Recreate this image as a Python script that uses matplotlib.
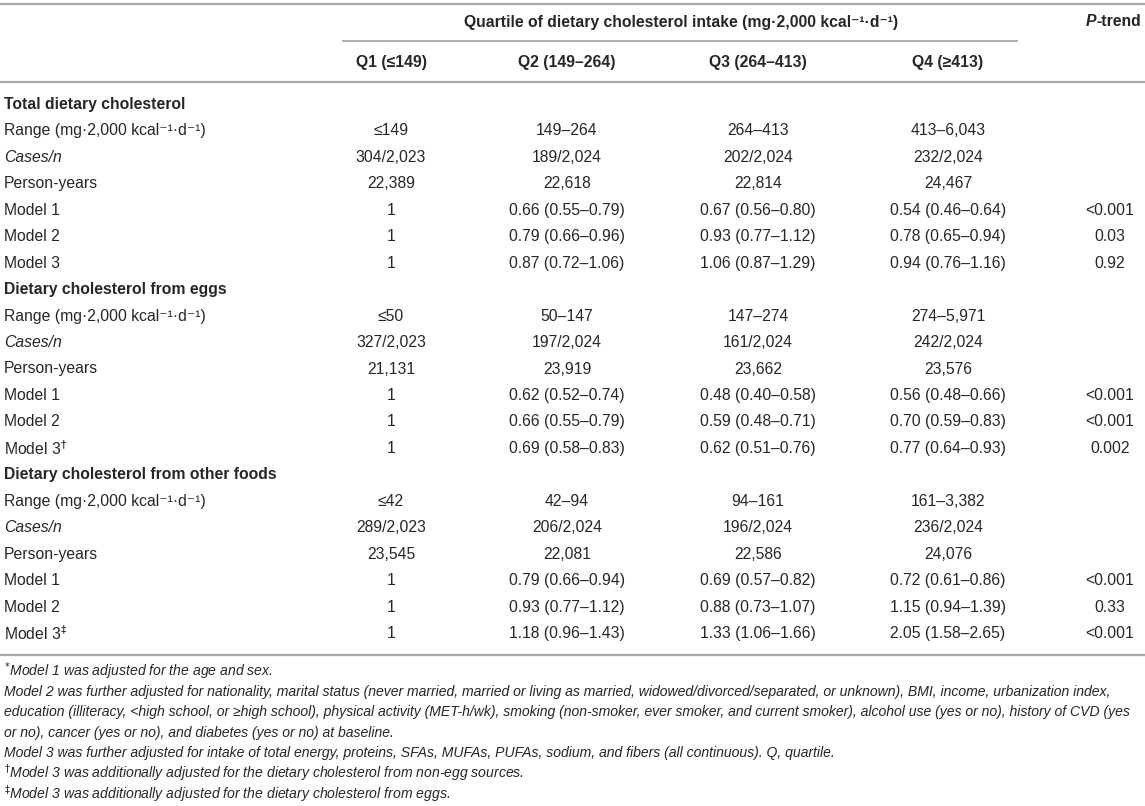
import matplotlib
matplotlib.use("Agg")
from matplotlib import pyplot as plt

plt.rcParams['font.family'] = ['Liberation Sans', 'DejaVu Sans']
plt.rcParams['mathtext.fontset'] = 'dejavusans'

TEXT_COLOR = '#262626'
LINE_COLOR = '#a8a8a8'

spanner_label = "Quartile of dietary cholesterol intake (mg·2,000 kcal⁻¹·d⁻¹)"
quartile_labels = ["Q1 (≤149)", "Q2 (149–264)", "Q3 (264–413)", "Q4 (≥413)"]
row_labels = ["Range (mg·2,000 kcal⁻¹·d⁻¹)", "Cases/n", "Person-years",
              "Model 1", "Model 2", "Model 3"]

# total dietary cholesterol
total_ranges = ["≤149", "149–264", "264–413", "413–6,043"]
total_cases = ["304/2,023", "189/2,024", "202/2,024", "232/2,024"]
total_person_years = ["22,389", "22,618", "22,814", "24,467"]
total_model1 = ["1", "0.66 (0.55–0.79)", "0.67 (0.56–0.80)", "0.54 (0.46–0.64)"]
total_model2 = ["1", "0.79 (0.66–0.96)", "0.93 (0.77–1.12)", "0.78 (0.65–0.94)"]
total_model3 = ["1", "0.87 (0.72–1.06)", "1.06 (0.87–1.29)", "0.94 (0.76–1.16)"]
total_p = ["<0.001", "0.03", "0.92"]

# cholesterol from eggs
egg_ranges = ["≤50", "50–147", "147–274", "274–5,971"]
egg_cases = ["327/2,023", "197/2,024", "161/2,024", "242/2,024"]
egg_person_years = ["21,131", "23,919", "23,662", "23,576"]
egg_model1 = ["1", "0.62 (0.52–0.74)", "0.48 (0.40–0.58)", "0.56 (0.48–0.66)"]
egg_model2 = ["1", "0.66 (0.55–0.79)", "0.59 (0.48–0.71)", "0.70 (0.59–0.83)"]
egg_model3 = ["1", "0.69 (0.58–0.83)", "0.62 (0.51–0.76)", "0.77 (0.64–0.93)"]
egg_p = ["<0.001", "<0.001", "0.002"]

# cholesterol from other foods
other_ranges = ["≤42", "42–94", "94–161", "161–3,382"]
other_cases = ["289/2,023", "206/2,024", "196/2,024", "236/2,024"]
other_person_years = ["23,545", "22,081", "22,586", "24,076"]
other_model1 = ["1", "0.79 (0.66–0.94)", "0.69 (0.57–0.82)", "0.72 (0.61–0.86)"]
other_model2 = ["1", "0.93 (0.77–1.12)", "0.88 (0.73–1.07)", "1.15 (0.94–1.39)"]
other_model3 = ["1", "1.18 (0.96–1.43)", "1.33 (1.06–1.66)", "2.05 (1.58–2.65)"]
other_p = ["<0.001", "0.33", "<0.001"]

sections = [
  ("Total dietary cholesterol", "",
   [total_ranges, total_cases, total_person_years, total_model1, total_model2, total_model3],
   total_p),
  ("Dietary cholesterol from eggs", r"$^{\dagger}$",
   [egg_ranges, egg_cases, egg_person_years, egg_model1, egg_model2, egg_model3],
   egg_p),
  ("Dietary cholesterol from other foods", r"$^{\ddagger}$",
   [other_ranges, other_cases, other_person_years, other_model1, other_model2, other_model3],
   other_p),
]

footnotes = [
  r"$^{*}$Model 1 was adjusted for the age and sex.",
  "Model 2 was further adjusted for nationality, marital status (never married, married or living as married, widowed/divorced/separated, or unknown), BMI, income, urbanization index,",
  "education (illiteracy, <high school, or ≥high school), physical activity (MET-h/wk), smoking (non-smoker, ever smoker, and current smoker), alcohol use (yes or no), history of CVD (yes",
  "or no), cancer (yes or no), and diabetes (yes or no) at baseline.",
  "Model 3 was further adjusted for intake of total energy, proteins, SFAs, MUFAs, PUFAs, sodium, and fibers (all continuous). Q, quartile.",
  r"$^{\dagger}$Model 3 was additionally adjusted for the dietary cholesterol from non-egg sources.",
  r"$^{\ddagger}$Model 3 was additionally adjusted for the dietary cholesterol from eggs.",
]

W, H = 1145, 806
fig = plt.figure(figsize=(W / 100, H / 100), dpi=100)
ax = fig.add_axes([0, 0, 1, 1])
ax.set_xlim(0, W)
ax.set_ylim(H, 0)
ax.axis('off')

col_x = [391, 567, 758, 948]
p_x = 1110
label_x = 4
fs = 11.3
row_y0 = 104.5
row_step = 26.45

# rules
ax.plot([0, W], [4, 4], color=LINE_COLOR, lw=1.6, solid_capstyle='butt')
ax.plot([342, 1018], [41, 41], color=LINE_COLOR, lw=1.3, solid_capstyle='butt')
ax.plot([0, W], [82, 82], color=LINE_COLOR, lw=1.6, solid_capstyle='butt')

# header
ax.text(681, 22, spanner_label, ha='center', va='center', fontsize=fs,
        fontweight='bold', color=TEXT_COLOR)
trend = ax.text(1141, 22, "-trend", ha='right', va='center', fontsize=fs,
                fontweight='bold', color=TEXT_COLOR)
ax.annotate("P", xy=(0, 0.5), xycoords=trend, ha='right', va='center',
            fontsize=fs, fontweight='bold', fontstyle='italic', color=TEXT_COLOR)
for x, lab in zip(col_x, quartile_labels):
  ax.text(x, 62, lab, ha='center', va='center', fontsize=fs,
          fontweight='bold', color=TEXT_COLOR)

# body
row = 0
for title, mark, values, pvals in sections:
  y = row_y0 + row * row_step
  ax.text(label_x, y, title, ha='left', va='center', fontsize=fs,
          fontweight='bold', color=TEXT_COLOR)
  row += 1
  for i, (lab, cells) in enumerate(zip(row_labels, values)):
    y = row_y0 + row * row_step
    style = 'italic' if lab == "Cases/n" else 'normal'
    text = lab + mark if i == 5 else lab
    ax.text(label_x, y, text, ha='left', va='center', fontsize=fs,
            fontstyle=style, color=TEXT_COLOR)
    for x, cell in zip(col_x, cells):
      ax.text(x, y, cell, ha='center', va='center', fontsize=fs, color=TEXT_COLOR)
    if i >= 3:
      ax.text(p_x, y, pvals[i - 3], ha='center', va='center', fontsize=fs,
              color=TEXT_COLOR)
    row += 1

bottom_y = row_y0 + (row - 1) * row_step + 21
ax.plot([0, W], [bottom_y, bottom_y], color=LINE_COLOR, lw=1.6, solid_capstyle='butt')

# footnotes
for k, note in enumerate(footnotes):
  ax.text(label_x, bottom_y + 17 + k * 20.4, note, ha='left', va='center',
          fontsize=10.1, fontstyle='italic', color=TEXT_COLOR)

fig.savefig("out.png", dpi=100)
